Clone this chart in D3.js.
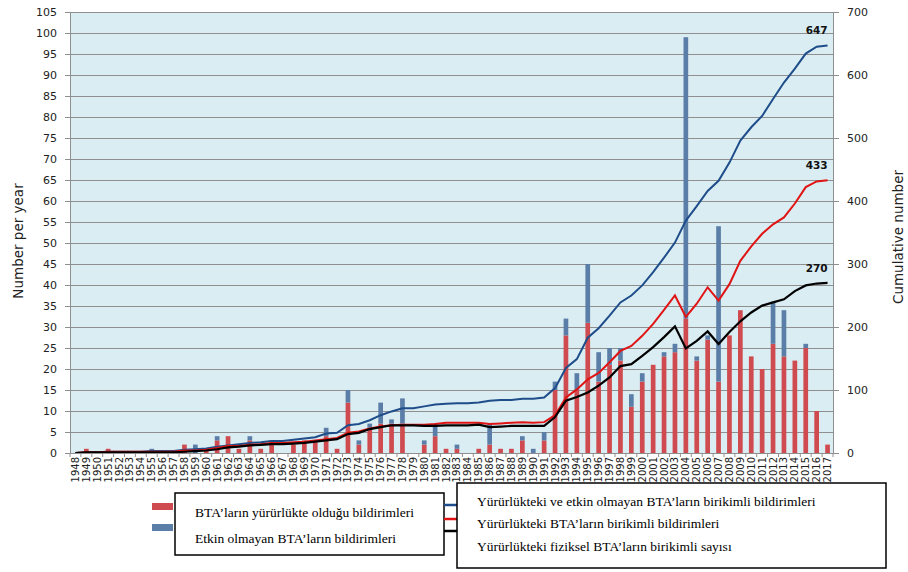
<!DOCTYPE html>
<html><head><meta charset="utf-8">
<script src="https://cdn.jsdelivr.net/npm/d3@7"></script>
<style>
body{margin:0;background:#fff;}
svg{display:block;}
</style></head>
<body>
<svg id="chart" width="908" height="572"></svg>
<script>
const years = d3.range(1948, 2018);
const inForce = [0,1,0,1,0,0,0,0,0,0, 2,0,1,3,4,1,3,1,3,0, 2,3,3,4,1,12,2,6,7,7, 7,0,2,4,1,1,0,1,2,1, 1,3,0,3,15,28,15,31,17,21, 22,11,17,21,23,24,32,22,27,17, 28,34,23,20,26,23,22,25,10,2];
const inactive = [0,0,0,0,0,0,0,1,0,0, 0,2,0,1,0,0,1,0,0,0, 0,0,0,2,0,3,1,1,5,1, 6,0,1,3,0,1,0,0,5,0, 0,1,1,2,2,4,4,14,7,4, 3,3,2,0,1,2,67,1,1,37, 0,0,0,0,10,11,0,1,0,0];
const cumAll = [0,1,1,2,2,2,2,3,3,3, 5,6,7,10,12,14,16,17,19,19, 21,23,25,31,32,44,46,52,60,66, 71,71,74,77,78,79,79,80,83,84, 84,86,86,88,103,135,149,183,198,218, 239,250,266,287,310,334,369,392,416,432, 461,496,517,535,562,588,610,634,645,647];
const cumInForce = [0,1,1,2,2,2,2,2,2,2, 4,4,5,8,11,11,13,14,16,16, 17,18,20,22,24,32,34,39,42,44, 45,45,45,46,48,48,48,48,46,47, 48,49,48,49,60,88,101,117,127,144, 162,170,186,205,227,250,216,237,263,242, 268,305,328,348,363,374,396,422,431,433];
const cumPhysical = [0,1,1,1,1,1,1,1,1,1, 2,3,4,6,9,10,12,13,14,14, 15,16,18,20,22,30,32,38,41,44, 44,44,43,43,44,44,44,45,41,42, 43,43,43,43,57,83,89,96,107,120, 138,141,154,168,184,201,166,178,193,173, 192,209,223,234,239,244,257,266,269,270];
const leftTicks = d3.range(0, 106, 5);
const rightTicks = d3.range(0, 701, 100);
const barLegend = ["BTA\u2019ların yürürlükte olduğu bildirimleri", "Etkin olmayan BTA\u2019ların bildirimleri"];
const lineLegend = ["Yürürlükteki ve etkin olmayan BTA\u2019ların birikimli bildirimleri", "Yürürlükteki BTA\u2019ların birikimli bildirimleri", "Yürürlükteki fiziksel BTA\u2019ların birikimli sayısı"];
const endLabels = ["647", "433", "270"];
const yLeftTitle = "Number per year";
const yRightTitle = "Cumulative number";

const C = {red:"#d04b4f", blue:"#5b7ea8", lBlue:"#1f4d8a", lRed:"#e01414", lBlack:"#000", bg:"#daedf3", grid:"#8f8f8f"};
const M = {l:70, r:833, t:12, b:453};
const svg = d3.select("#chart");
const x = d3.scaleBand().domain(years).range([M.l, M.r]).paddingInner(0).paddingOuter(0);
const yL = d3.scaleLinear().domain([0,105]).range([M.b, M.t]);
const yR = d3.scaleLinear().domain([0,700]).range([M.b, M.t]);
const bw = x.bandwidth()*0.43;
const cx = d => x(d) + x.bandwidth()/2;

svg.append("rect").attr("x",M.l).attr("y",M.t).attr("width",M.r-M.l).attr("height",M.b-M.t).attr("fill",C.bg);
// grid
svg.append("g").selectAll("line").data(leftTicks.filter(d=>d>0)).join("line")
  .attr("x1",M.l).attr("x2",M.r).attr("y1",d=>yL(d)+0.5).attr("y2",d=>yL(d)+0.5)
  .attr("stroke",C.grid).attr("stroke-width",1);
// bars
const bars = svg.append("g");
bars.selectAll(".r").data(years).join("rect")
  .attr("x",(d)=>cx(d)-bw/2).attr("width",bw)
  .attr("y",(d,i)=>yL(inForce[i])).attr("height",(d,i)=>yL(0)-yL(inForce[i]))
  .attr("fill",C.red);
bars.selectAll(".b").data(years).join("rect")
  .attr("x",(d)=>cx(d)-bw/2).attr("width",bw)
  .attr("y",(d,i)=>yL(inForce[i]+inactive[i])).attr("height",(d,i)=>yL(inForce[i])-yL(inForce[i]+inactive[i]))
  .attr("fill",C.blue);
// lines
const line = arr => d3.line().x((d,i)=>cx(years[i])).y(d=>yR(d))(arr);
svg.append("path").attr("d",line(cumAll)).attr("fill","none").attr("stroke",C.lBlue).attr("stroke-width",2);
svg.append("path").attr("d",line(cumInForce)).attr("fill","none").attr("stroke",C.lRed).attr("stroke-width",2);
svg.append("path").attr("d",line(cumPhysical)).attr("fill","none").attr("stroke",C.lBlack).attr("stroke-width",2.2);
// end labels
[cumAll, cumInForce, cumPhysical].forEach((arr,k)=>{
  svg.append("text").attr("x",cx(2017)).attr("y",yR(arr[arr.length-1])-11)
    .attr("text-anchor","end").attr("font-family","DejaVu Sans, Verdana, sans-serif")
    .attr("font-size","10.5px").attr("font-weight","bold").attr("fill","#111").text(endLabels[k]);
});
svg.append("line").attr("x1",M.r+0.5).attr("x2",M.r+0.5).attr("y1",M.t).attr("y2",M.b).attr("stroke",C.grid);
// axes
const gL = svg.append("g").attr("transform",`translate(${M.l},0)`)
  .call(d3.axisLeft(yL).tickValues(leftTicks).tickSize(5).tickPadding(8));
const gR = svg.append("g").attr("transform",`translate(${M.r},0)`)
  .call(d3.axisRight(yR).tickValues(rightTicks).tickSize(6).tickPadding(8));
[gL,gR].forEach(g=>{
  g.selectAll("path,line").attr("stroke",C.grid);
  g.selectAll("text").attr("font-family","DejaVu Sans, Verdana, sans-serif").attr("font-size","11px").attr("fill","#222");
});
const gX = svg.append("g").attr("transform",`translate(0,${M.b})`)
  .call(d3.axisBottom(x).tickSize(0).tickPadding(0));
gX.select(".domain").attr("stroke",C.grid);
gX.selectAll(".tick text")
  .attr("transform","rotate(-90)").attr("text-anchor","end")
  .attr("x",-4).attr("y",0).attr("dy","0.35em")
  .attr("font-family","DejaVu Sans, Verdana, sans-serif").attr("font-size","10px").attr("fill","#222");
svg.append("g").selectAll("line").data(years.concat([null])).join("line")
  .attr("x1",(d,i)=> i<years.length ? x(d) : M.r).attr("x2",(d,i)=> i<years.length ? x(d) : M.r)
  .attr("y1",M.b).attr("y2",M.b+4).attr("stroke",C.grid);
// axis titles
svg.append("text").attr("transform",`translate(23,241) rotate(-90)`).attr("text-anchor","middle")
  .attr("font-family","DejaVu Sans, Verdana, sans-serif").attr("font-size","13.5px").attr("fill","#222").text(yLeftTitle);
svg.append("text").attr("transform",`translate(898,237) rotate(-90)`).attr("text-anchor","middle").attr("dy","0.35em")
  .attr("font-family","DejaVu Sans, Verdana, sans-serif").attr("font-size","13.5px").attr("fill","#222").text(yRightTitle);
// legends
const serif = "Liberation Serif, Times New Roman, serif";
const lg = svg.append("g");
lg.append("rect").attr("x",152).attr("y",503).attr("width",21).attr("height",7).attr("fill",C.red);
lg.append("rect").attr("x",152).attr("y",524).attr("width",21).attr("height",7).attr("fill",C.blue);
lg.append("rect").attr("x",175).attr("y",493).attr("width",269).attr("height",62).attr("fill","#fff").attr("stroke","#000").attr("stroke-width",1.5);
barLegend.forEach((t,i)=>lg.append("text").attr("x",195).attr("y",[512,538][i]).attr("dy","0.35em")
  .attr("font-family",serif).attr("font-size","13.5px").attr("fill","#000").text(t));
[[C.lBlue,505],[C.lRed,519],[C.lBlack,531]].forEach(([c,y])=>lg.append("line").attr("x1",444).attr("x2",457).attr("y1",y).attr("y2",y).attr("stroke",c).attr("stroke-width",2.5));
lg.append("rect").attr("x",457).attr("y",483).attr("width",429).attr("height",85).attr("fill","#fff").attr("stroke","#000").attr("stroke-width",1.5);
lineLegend.forEach((t,i)=>lg.append("text").attr("x",477).attr("y",[501,523,546][i]).attr("dy","0.35em")
  .attr("font-family",serif).attr("font-size","13.5px").attr("fill","#000").text(t));
</script>
</body></html>
